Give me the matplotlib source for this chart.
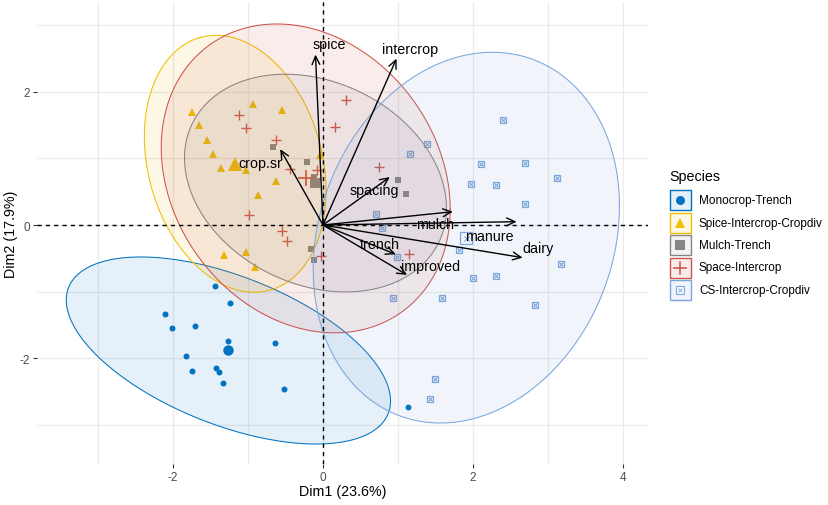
import numpy as np
import matplotlib
matplotlib.use('Agg')
import matplotlib.pyplot as plt
from matplotlib.patches import Rectangle

plt.rcParams['font.family'] = ['Liberation Sans', 'DejaVu Sans']

# ---------------- data ----------------
groups = ['Monocrop-Trench', 'Spice-Intercrop-Cropdiv', 'Mulch-Trench',
          'Space-Intercrop', 'CS-Intercrop-Cropdiv']
colors = ['#0073C2', '#EFC000', '#868686', '#CD534C', '#7AA6DC']

mono_x = [-1.44, -1.24, -2.11, -2.01, -1.71, -1.26, -0.64, -1.83, -1.74, -1.42, -1.38, -1.33, -0.52, 1.13]
mono_y = [-0.91, -1.17, -1.33, -1.55, -1.51, -1.74, -1.77, -1.97, -2.20, -2.15, -2.21, -2.38, -2.46, -2.74]

spice_x = [-1.74, -0.93, -0.55, -1.65, -1.55, -1.46, -1.36, -1.02, -0.62, -0.87, -0.04, -1.32, -1.02, -0.91]
spice_y = [1.70, 1.82, 1.73, 1.50, 1.28, 1.06, 0.85, 0.83, 0.66, 0.45, 1.05, -0.45, -0.41, -0.63]

mulch_x = [-0.66, -0.21, -0.12, 1.00, 1.10, -0.16, -0.12]
mulch_y = [1.17, 0.94, 0.72, 0.68, 0.46, -0.36, -0.52]

space_x = [-1.12, -1.02, -0.63, -0.08, -0.44, -0.98, -0.54, -0.48, -0.03, 0.31, 0.16, 0.75, 1.15]
space_y = [1.66, 1.45, 1.28, 0.83, 0.84, 0.15, -0.09, -0.24, -0.46, 1.88, 1.47, 0.87, -0.44]

cs_x = [2.40, 1.38, 1.16, 2.11, 2.69, 3.12, 1.97, 2.31, 2.69, 0.71, 0.79, 1.81, 0.99, 3.17,
        2.00, 2.30, 0.93, 1.58, 2.83, 1.49, 1.42]
cs_y = [1.58, 1.21, 1.07, 0.91, 0.93, 0.71, 0.62, 0.60, 0.31, 0.17, -0.04, -0.37, -0.48, -0.59,
        -0.80, -0.76, -1.09, -1.09, -1.20, -2.32, -2.62]

# group means (centroids) and 95% ellipse spread (sd-scaled) + correlation
centroid_x = [-1.26, -1.17, -0.10, -0.23, 1.91]
centroid_y = [-1.885, 0.92, 0.63, 0.70, -0.19]
ell_sx = [2.16, 1.21, 1.745, 1.925, 2.04]
ell_sy = [1.405, 1.93, 1.635, 2.32, 2.785]
ell_r = [-0.54, -0.21, -0.23, -0.20, 0.17]

# variable loadings (arrows)
var_names = ['spice', 'intercrop', 'crop.sr', 'spacing', 'mulch', 'manure', 'dairy', 'trench', 'improved']
var_x = [-0.10, 0.98, -0.57, 0.89, 1.73, 2.58, 2.66, 0.97, 1.12]
var_y = [2.56, 2.50, 1.14, 0.72, 0.20, 0.05, -0.49, -0.44, -0.75]

x_ticks = [-2, 0, 2, 4]
y_ticks = [-2, 0, 2]
x_label = 'Dim1 (23.6%)'
y_label = 'Dim2 (17.9%)'
legend_title = 'Species'

# ---------------- styling ----------------
label_offsets = [(0.19, 0.16), (0.18, 0.15), (-0.26, -0.21), (-0.21, -0.20), (-0.24, -0.19),
                 (-0.37, -0.21), (0.20, 0.14), (-0.22, 0.15), (0.31, 0.14)]
markers = ['o', '^', 's', '+', 's']
msizes = [4.3, 5.5, 4.0, 6.5, 5.0]
big_msizes = [7.5, 9.5, 7.0, 11.0, 8.0]

W, H = 829, 506
fig = plt.figure(figsize=(W / 100, H / 100), dpi=100)
L, R, T, B = 37, 648, 3, 465
ax = fig.add_axes([L / W, (H - B) / H, (R - L) / W, (B - T) / H])
ax.set_xlim(-3.81, 4.33)
ax.set_ylim(-3.59, 3.35)
for s in ax.spines.values():
    s.set_visible(False)

# grid
grid_c = '#EBEBEB'
for v in [-3, -2, -1, 0, 1, 2, 3, 4]:
    ax.axvline(v, color=grid_c, lw=1.0, zorder=0)
for v in [-3, -2, -1, 0, 1, 2, 3]:
    ax.axhline(v, color=grid_c, lw=1.0, zorder=0)

ax.set_xticks(x_ticks)
ax.set_yticks(y_ticks)
ax.set_xticklabels([str(t) for t in x_ticks])
ax.set_yticklabels([str(t) for t in y_ticks])
ax.tick_params(axis='both', length=3, width=0.8, color='#333333', labelsize=8.5,
               labelcolor='#4D4D4D', pad=2)

# points
pts = [(mono_x, mono_y), (spice_x, spice_y), (mulch_x, mulch_y), (space_x, space_y), (cs_x, cs_y)]
for i, (xs, ys) in enumerate(pts):
    c = colors[i]
    if i == 3:
        ax.plot(xs, ys, ls='none', marker='+', ms=msizes[i], mew=1.0, color=c, zorder=2)
        ax.plot([centroid_x[i]], [centroid_y[i]], ls='none', marker='+', ms=big_msizes[i], mew=1.3, color=c, zorder=2)
    elif i == 4:
        for xx, yy, ms in [(xs, ys, msizes[i]), ([centroid_x[i]], [centroid_y[i]], big_msizes[i])]:
            ax.plot(xx, yy, ls='none', marker='s', ms=ms, mfc='white', mec=c, mew=0.9, zorder=2)
            ax.plot(xx, yy, ls='none', marker='x', ms=ms * 0.45, mec=c, mew=0.8, zorder=2)
    else:
        ax.plot(xs, ys, ls='none', marker=markers[i], ms=msizes[i], color=c, mew=0, zorder=2)
        ax.plot([centroid_x[i]], [centroid_y[i]], ls='none', marker=markers[i], ms=big_msizes[i],
                color=c, mew=0, zorder=2)

# ellipses
t = np.linspace(0, 2 * np.pi, 300)
for i in range(len(groups)):
    r = ell_r[i]
    ex = centroid_x[i] + ell_sx[i] * np.cos(t)
    ey = centroid_y[i] + ell_sy[i] * (r * np.cos(t) + np.sqrt(1 - r * r) * np.sin(t))
    ax.fill(ex, ey, color=colors[i], alpha=0.1, lw=0, zorder=3)
    ax.plot(ex, ey, color=colors[i], lw=0.75, zorder=3)

# reference dashed lines
ax.axhline(0, color='black', lw=1.0, ls=(0, (3, 3)), zorder=4)
ax.axvline(0, color='black', lw=1.0, ls=(0, (3, 3)), zorder=4)

# arrows
for name, vx, vy, (ox, oy) in zip(var_names, var_x, var_y, label_offsets):
    ax.annotate('', xy=(vx, vy), xytext=(0, 0),
                arrowprops=dict(arrowstyle='->,head_length=0.6,head_width=0.28', lw=1.0,
                                color='black', shrinkA=0, shrinkB=0, mutation_scale=10),
                zorder=5)
    ax.text(vx + ox, vy + oy, name, fontsize=10.3, color='black', ha='center', va='center', zorder=6)

# axis titles
fig.text(((L + R) / 2) / W, 1 - 492 / H, x_label, ha='center', va='center', fontsize=10.3)
fig.text(11 / W, 1 - 234 / H, y_label, ha='center', va='center', rotation=90, fontsize=10.3)

# legend (manual, in pixel coordinates)
lax = fig.add_axes([0, 0, 1, 1], facecolor='none')
lax.set_xlim(0, W)
lax.set_ylim(H, 0)
lax.axis('off')
lax.text(669, 177, legend_title, fontsize=10.3, ha='left', va='center')
row_y = [201, 223.5, 246, 268.5, 291]
for i, g in enumerate(groups):
    c = colors[i]
    cy = row_y[i]
    lax.add_patch(Rectangle((670, cy - 10), 21, 20, facecolor='white', edgecolor='none', zorder=1))
    lax.add_patch(Rectangle((670, cy - 10), 21, 20, facecolor=c, alpha=0.1, edgecolor='none', zorder=2))
    lax.add_patch(Rectangle((670, cy - 10), 21, 20, facecolor='none', edgecolor=c, lw=1.0, zorder=3))
    if i == 3:
        lax.plot([680.5], [cy], marker='+', ms=big_msizes[i] * 0.9, mew=1.1, color=c, zorder=4)
    elif i == 4:
        lax.plot([680.5], [cy], marker='s', ms=6, mfc='white', mec=c, mew=0.8, zorder=4)
        lax.plot([680.5], [cy], marker='x', ms=2.7, mec=c, mew=0.7, zorder=4)
    else:
        lax.plot([680.5], [cy], marker=markers[i], ms=6.5, color=c, mew=0, zorder=4)
    lax.text(699, cy, g, fontsize=8.5, ha='left', va='center', color='black')

fig.savefig('out.png', dpi=100)
